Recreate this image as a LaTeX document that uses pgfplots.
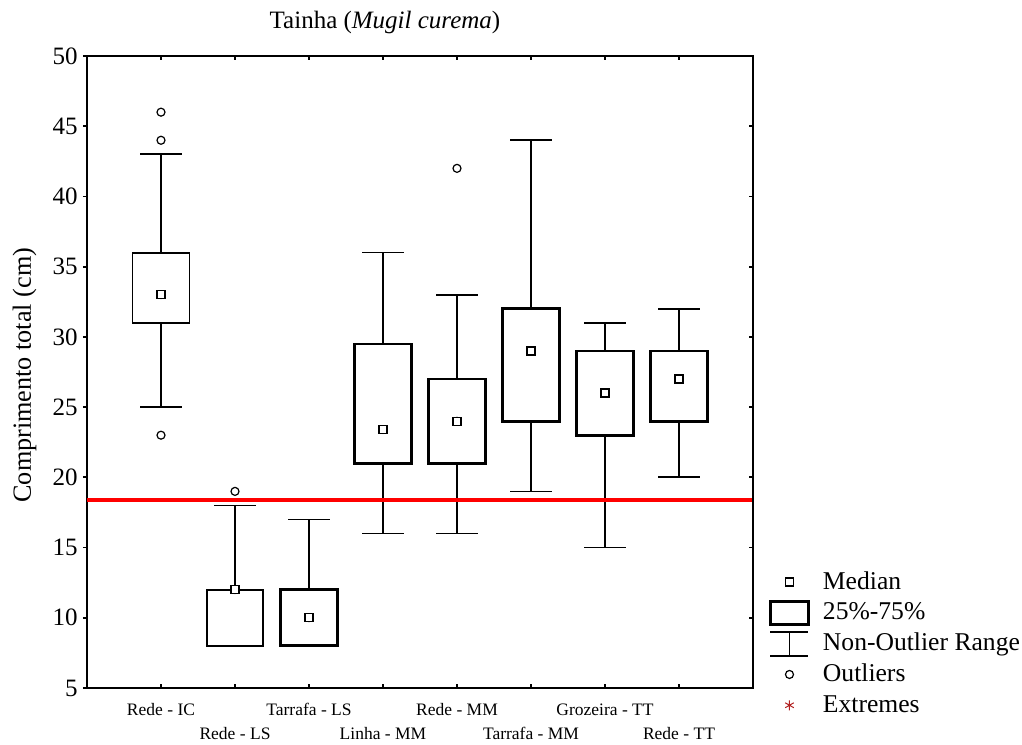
\documentclass[border=0pt]{standalone}
\usepackage{fontspec}
\setmainfont{Liberation Serif}
\usepackage{pgfplots}
\usepackage{pgfplotstable}
\pgfplotsset{compat=1.18}
\definecolor{extremecol}{RGB}{178,34,34}

% position, lower whisker, lower quartile, median, upper quartile, upper whisker
\pgfplotstableread{
pos wlo q1  med  q3   whi
0   25  31  33   36   43
1   8   8   12   12   18
2   8   8   10   12   17
3   16  21  23.4 29.5 36
4   16  21  24   27   33
5   19  24  29   32   44
6   15  23  26   29   31
7   20  24  27   29   32
}\fishdata

\pgfplotsset{
  boxline/.style={black, line width=#1, fill=white, forget plot},
  marklegend/.style={legend image code/.code={%
    \draw[mark repeat=2,mark phase=2,##1] plot coordinates {(0pt,0pt) (9.5pt,0pt) (19pt,0pt)};}},
}

\begin{document}
\begin{tikzpicture}
\useasboundingbox (-43.5pt,-28pt) rectangle (467.5pt,344pt);
\begin{axis}[
  at={(0,0)}, anchor=south west,
  scale only axis, width=333pt, height=316pt,
  xmin=-1, xmax=8, ymin=5, ymax=50,
  xtick={0,...,7},
  xticklabels={{\strut Rede - IC},{\strut\\\strut Rede - LS},{\strut Tarrafa - LS},{\strut\\\strut Linha - MM},
               {\strut Rede - MM},{\strut\\\strut Tarrafa - MM},{\strut Grozeira - TT},{\strut\\\strut Rede - TT}},
  ytick={5,10,...,50},
  ytick pos=left,
  xtick align=inside, ytick align=outside,
  major tick length=2pt,
  tick style={black, line width=0.9pt},
  axis line style={black, line width=1.1pt},
  /pgf/number format/assume math mode=true,
  yticklabel style={font=\fontsize{12.5}{15}\selectfont, inner sep=0pt, anchor=east, xshift=-2.5pt},
  xticklabel style={font=\fontsize{8.75}{12}\selectfont, align=center, inner sep=0pt, anchor=north, yshift=-5.1pt},
  title={Tainha (\textit{Mugil curema})},
  title style={at={(rel axis cs:0.4474,1)}, anchor=base, yshift=7.85pt, inner sep=0pt, font=\fontsize{12.5}{15}\selectfont},
  ylabel={Comprimento total (cm)},
  ylabel style={at={([xshift=-28pt]rel axis cs:0,0.495)}, anchor=base, inner sep=0pt, font=\fontsize{13.1}{15}\selectfont},
  legend style={at={(rel axis cs:1.024,0.192)}, anchor=north west, draw=none, fill=none,
    inner sep=0pt, outer sep=0pt, column sep=6.5pt, row sep=0pt,
    font=\fontsize{12.8}{15}\selectfont,
    nodes={inner sep=0pt, text height=11.2pt, text depth=4.2pt}},
  legend cell align=left,
]
% legend keys
\addlegendimage{only marks, mark=square*, mark size=2pt, mark options={fill=white, draw=black, line width=0.6pt}, marklegend}
\addlegendentry{Median}
\addlegendimage{legend image code/.code={\draw[black, line width=1.5pt] (0pt,-5.75pt) rectangle (19pt,5.75pt);}}
\addlegendentry{25\%-75\%}
\addlegendimage{legend image code/.code={\draw[black, line width=0.9pt] (0pt,6pt) -- (19pt,6pt) (9.5pt,6pt) -- (9.5pt,-6pt) (0pt,-6pt) -- (19pt,-6pt);}}
\addlegendentry{Non-Outlier Range}
\addlegendimage{only marks, mark=o, mark size=2pt, mark options={line width=0.6pt}, black, marklegend}
\addlegendentry{Outliers}
\addlegendimage{only marks, mark=asterisk, mark size=2.5pt, mark options={line width=0.5pt}, extremecol, marklegend}
\addlegendentry{Extremes}

% non-outlier range: whisker from lower to upper limit, with caps
\addplot[only marks, mark=none, forget plot,
  error bars/.cd, y dir=both, y explicit, error mark=|,
  error bar style={draw=black, solid, line width=0.85pt},
  error mark options={draw=black, solid, line width=0.85pt, mark size=10.35pt}]
  table[x=pos, y=med, y error plus expr=\thisrow{whi}-\thisrow{med}, y error minus expr=\thisrow{med}-\thisrow{wlo}] {\fishdata};

% 25%-75% boxes (half-width 0.385)
\addplot[boxline=0.9pt] coordinates {(0,31) (0.385,31) (0.385,36) (-0.385,36) (-0.385,31) (0,31)};
\addplot[boxline=1.0pt] coordinates {(1,8) (1.385,8) (1.385,12) (0.615,12) (0.615,8) (1,8)};
\addplot[boxline=1.4pt] coordinates {(2,8) (2.385,8) (2.385,12) (1.615,12) (1.615,8) (2,8)};
\addplot[boxline=1.4pt] coordinates {(3,21) (3.385,21) (3.385,29.5) (2.615,29.5) (2.615,21) (3,21)};
\addplot[boxline=1.4pt] coordinates {(4,21) (4.385,21) (4.385,27) (3.615,27) (3.615,21) (4,21)};
\addplot[boxline=1.4pt] coordinates {(5,24) (5.385,24) (5.385,32) (4.615,32) (4.615,24) (5,24)};
\addplot[boxline=1.4pt] coordinates {(6,23) (6.385,23) (6.385,29) (5.615,29) (5.615,23) (6,23)};
\addplot[boxline=1.4pt] coordinates {(7,24) (7.385,24) (7.385,29) (6.615,29) (6.615,24) (7,24)};

% outliers
\addplot[only marks, mark=o, mark size=2pt, mark options={line width=0.6pt}, black, forget plot]
  coordinates {(0,46) (0,44) (0,23) (1,19) (4,42)};
% medians
\addplot[only marks, mark=square*, mark size=2pt, mark options={fill=white, draw=black, line width=0.6pt}, forget plot]
  table[x=pos, y=med] {\fishdata};
% reference length
\addplot[red, line width=1.7pt, forget plot] coordinates {(-1,18.4) (8,18.4)};
\end{axis}
% right-hand ticks pointing inward
\begin{axis}[
  at={(0,0)}, anchor=south west,
  scale only axis, width=333pt, height=316pt,
  xmin=-1, xmax=8, ymin=5, ymax=50,
  hide x axis, axis y line*=right,
  ytick={5,10,...,50}, yticklabels={},
  ytick align=inside, major tick length=2pt,
  tick style={black, line width=0.9pt},
  axis line style={black, line width=1.1pt},
]
\end{axis}
\end{tikzpicture}
\end{document}
